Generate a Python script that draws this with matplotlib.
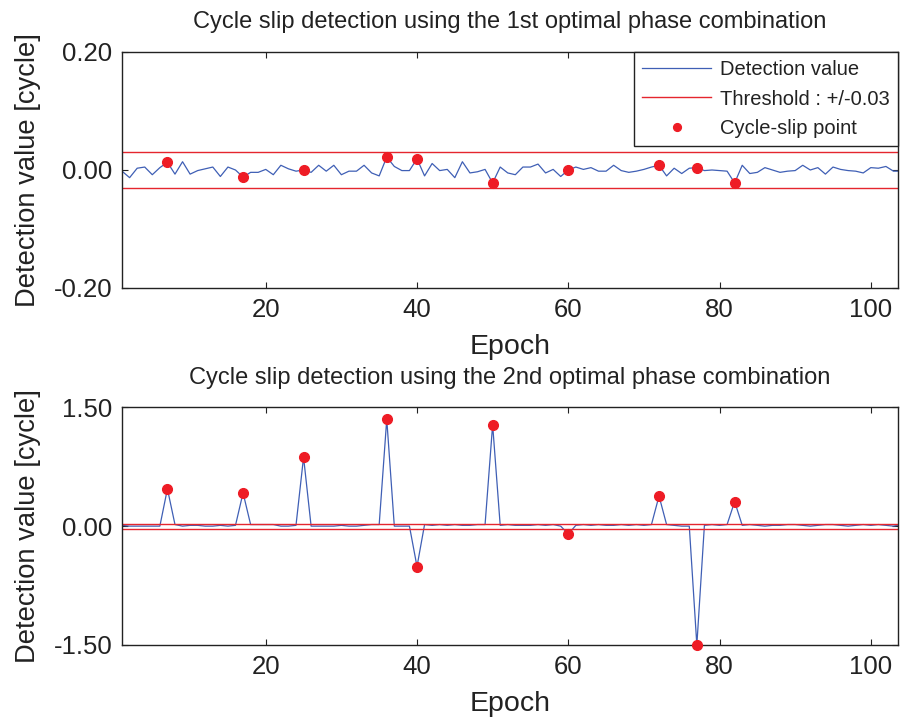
import matplotlib
matplotlib.use("Agg")
import matplotlib.pyplot as plt
import numpy as np

plt.rcParams['font.family'] = ['Liberation Sans', 'DejaVu Sans']

# Epoch index and detection values for both phase combinations
epochs = list(range(1, 105))

det_1st = [
    -0.002, -0.013, 0.003, 0.005, -0.008, 0.004, 0.013, -0.007, 0.014, -0.007,
    -0.001, 0.002, 0.005, -0.011, 0.005, 0.000, -0.012, -0.004, -0.004, 0.001,
    -0.008, 0.008, 0.002, -0.002, 0.000, -0.004, 0.008, -0.002, 0.008, -0.008,
    -0.002, -0.002, 0.008, -0.005, -0.010, 0.022, 0.006, -0.001, -0.001, 0.019,
    -0.010, 0.011, -0.001, 0.001, -0.013, 0.014, -0.005, -0.003, 0.001, -0.022,
    0.005, -0.005, -0.008, 0.005, 0.005, 0.010, -0.005, 0.001, -0.011, 0.000,
    0.005, 0.001, 0.004, -0.002, -0.002, 0.008, -0.001, -0.004, -0.002, 0.001,
    0.005, 0.008, -0.010, 0.003, -0.006, 0.003, 0.004, -0.001, 0.000, -0.001,
    -0.002, -0.022, 0.008, -0.006, -0.004, 0.004, 0.000, -0.004, -0.002, -0.001,
    0.008, 0.000, 0.004, -0.007, 0.005, 0.001, -0.001, -0.002, -0.005, 0.004,
    0.003, 0.006, -0.002, -0.002,
]

det_2nd = [
    0.01, 0.00, 0.00, 0.00, 0.00, 0.00, 0.47, 0.02, 0.00, 0.01,
    0.01, 0.00, 0.00, 0.01, 0.00, 0.01, 0.42, 0.02, 0.02, 0.02,
    0.02, 0.00, 0.00, 0.01, 0.87, 0.00, 0.00, 0.00, 0.00, 0.01,
    0.00, 0.00, 0.01, 0.02, 0.02, 1.35, 0.00, 0.00, 0.00, -0.51,
    0.02, 0.01, 0.02, 0.01, 0.02, 0.01, 0.01, 0.02, 0.02, 1.28,
    0.01, 0.02, 0.01, 0.01, 0.01, 0.02, 0.01, 0.02, 0.00, -0.10,
    0.01, 0.02, 0.01, 0.02, 0.01, 0.01, 0.02, 0.01, 0.02, 0.01,
    0.02, 0.38, 0.02, 0.01, 0.00, 0.00, -1.50, 0.01, 0.02, 0.01,
    0.02, 0.31, 0.01, 0.02, 0.01, 0.00, 0.01, 0.01, 0.02, 0.02,
    0.01, 0.00, 0.01, 0.02, 0.02, 0.01, 0.00, 0.01, 0.02, 0.01,
    0.02, 0.01, 0.00, 0.02,
]

slip_epochs = [7, 17, 25, 36, 40, 50, 60, 72, 77, 82]
threshold = 0.03

titles = [
    "Cycle slip detection using the 1st optimal phase combination",
    "Cycle slip detection using the 2nd optimal phase combination",
]
y_limits = [(-0.2, 0.2), (-1.5, 1.5)]
y_ticks = [[-0.2, 0.0, 0.2], [-1.5, 0.0, 1.5]]
x_ticks = [20, 40, 60, 80, 100]

line_color = '#3f5fb5'
thr_color = '#e5262e'
dot_color = '#ee1c25'
ink = '#222222'

fig = plt.figure(figsize=(9, 7.2), dpi=100)
ax_top = fig.add_axes([0.1356, 0.600, 0.8622, 0.3278])
ax_bot = fig.add_axes([0.1356, 0.1042, 0.8622, 0.3301])

for i, (ax, series) in enumerate(zip([ax_top, ax_bot], [det_1st, det_2nd])):
    x = np.array(epochs)
    y = np.array(series)
    ax.plot(x, y, color=line_color, lw=0.9, label='Detection value')
    ax.axhline(threshold, color=thr_color, lw=1.0, label='Threshold : +/-0.03')
    ax.axhline(-threshold, color=thr_color, lw=1.0)
    idx = np.array(slip_epochs) - 1
    ax.plot(x[idx], y[idx], 'o', color=dot_color, ms=7, mec=dot_color,
            clip_on=False, zorder=5, label='Cycle-slip point')

    ax.set_xlim(1, 103.6)
    ax.set_ylim(*y_limits[i])
    ax.set_xticks(x_ticks)
    ax.set_yticks(y_ticks[i])
    ax.set_yticklabels([f"{v:.2f}" for v in y_ticks[i]])
    ax.tick_params(direction='in', length=4, width=0.8, top=True, right=True,
                   labelsize=18.5, pad=7, colors=ink)
    for s in ax.spines.values():
        s.set_linewidth(1.0)
        s.set_color(ink)
    ax.set_title(titles[i], fontsize=17, pad=17, color=ink)
    ax.set_xlabel('Epoch', fontsize=20.5, labelpad=9, color=ink)
    ax.set_ylabel('Detection value [cycle]', fontsize=19.7, labelpad=9, color=ink)

leg = ax_top.legend(loc='upper right', bbox_to_anchor=(1.0, 1.0), borderaxespad=0.0,
                    fontsize=14.5, fancybox=False, framealpha=1, edgecolor=ink,
                    handlelength=3.4, handletextpad=0.45, labelspacing=0.5,
                    borderpad=0.42, markerscale=0.8)
leg.get_frame().set_linewidth(1.0)
for t in leg.get_texts():
    t.set_color(ink)

fig.savefig('out.png', dpi=100)
